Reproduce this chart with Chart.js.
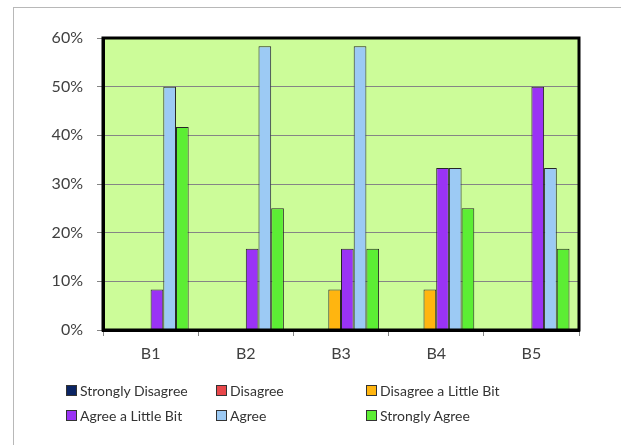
<!DOCTYPE html>
<html>
<head>
<meta charset="utf-8">
<script src="https://cdn.jsdelivr.net/npm/chart.js@4.4.1/dist/chart.umd.min.js"></script>
<style>
  html, body { margin: 0; padding: 0; background: #ffffff; }
  #wrap { position: relative; width: 621px; height: 445px; overflow: hidden; }
  #frame { position: absolute; left: 13px; top: 7px; width: 640px; height: 460px;
           border: 1px solid #b8b8b8; box-sizing: border-box; }
  #chart { position: absolute; left: 0; top: 0; }
  #legend { position: absolute; left: 66px; top: 381px; display: grid;
            grid-template-columns: 150px 150px 220px; row-gap: 6px;
            font-family: Lato, "Open Sans", sans-serif; font-size: 14px; color: #333333; }
  .item { display: flex; align-items: center; height: 19px; white-space: nowrap; }
  .sw { width: 9px; height: 9px; border: 1px solid #333; margin-right: 3px; flex: none; }
</style>
</head>
<body>
<div id="wrap">
  <div id="frame"></div>
  <canvas id="chart" width="621" height="445"></canvas>
  <div id="legend"></div>
</div>
<script>
// Survey items and response shares (percent of respondents)
const categories = ["B1", "B2", "B3", "B4", "B5"];
const seriesNames = ["Strongly Disagree", "Disagree", "Disagree a Little Bit",
                     "Agree a Little Bit", "Agree", "Strongly Agree"];
const stronglyDisagree = [0, 0, 0, 0, 0];
const disagree         = [0, 0, 0, 0, 0];
const disagreeLittle   = [0, 0, 8.3, 8.3, 0];
const agreeLittle      = [8.3, 16.7, 16.7, 33.3, 50];
const agree            = [50, 58.3, 58.3, 33.3, 33.3];
const stronglyAgree    = [41.7, 25, 16.7, 25, 16.7];
const yTicks = [0, 10, 20, 30, 40, 50, 60];

const seriesValues = [stronglyDisagree, disagree, disagreeLittle, agreeLittle, agree, stronglyAgree];
const seriesColors = ["#0a2463", "#e8474a", "#ffb510", "#9a33f5", "#9ccaf4", "#5cee34"];

const plotFrame = {
  id: "plotFrame",
  beforeDraw(chart) {
    const { ctx, chartArea: a } = chart;
    ctx.save();
    ctx.fillStyle = "#ccfc99";
    ctx.fillRect(a.left, a.top, a.right - a.left, a.bottom - a.top);
    ctx.restore();
  },
  afterDraw(chart) {
    const { ctx, chartArea: a } = chart;
    ctx.save();
    ctx.strokeStyle = "#000000";
    ctx.lineWidth = 3;
    ctx.strokeRect(a.left, a.top, a.right - a.left, a.bottom - a.top);
    ctx.restore();
  }
};

const fontFamily = 'Lato, "Open Sans", sans-serif';

new Chart(document.getElementById("chart"), {
  type: "bar",
  data: {
    labels: categories,
    datasets: seriesNames.map((name, i) => ({
      label: name,
      data: seriesValues[i],
      backgroundColor: seriesColors[i],
      borderColor: "#262626",
      borderWidth: 1,
      categoryPercentage: 0.8,
      barPercentage: 1.0
    }))
  },
  options: {
    responsive: false,
    animation: false,
    layout: { padding: { left: 0, top: 38, right: 42, bottom: 75 } },
    plugins: { legend: { display: false }, tooltip: { enabled: false } },
    scales: {
      y: {
        min: 0, max: 60,
        afterFit(scale) { scale.width = 103; },
        afterBuildTicks(scale) { scale.ticks = yTicks.map(v => ({ value: v })); },
        ticks: { callback: v => v + "%", font: { family: fontFamily, size: 16 },
                 color: "#404040", padding: 14 },
        grid: { color: "#858585", lineWidth: 1, tickLength: 6, tickColor: "#858585" },
        border: { color: "#000000", width: 3 }
      },
      x: {
        afterFit(scale) { scale.height = 40; },
        ticks: { font: { family: fontFamily, size: 16 }, color: "#404040", padding: 8 },
        grid: { drawOnChartArea: false, offset: true, tickLength: 6, tickColor: "#858585" },
        border: { color: "#000000", width: 3 }
      }
    }
  },
  plugins: [plotFrame]
});

// Legend in two rows of three, built from the series names and colours
const legend = document.getElementById("legend");
const order = [0, 1, 2, 3, 4, 5];
order.forEach(i => {
  const item = document.createElement("div");
  item.className = "item";
  const sw = document.createElement("span");
  sw.className = "sw";
  sw.style.background = seriesColors[i];
  const tx = document.createElement("span");
  tx.textContent = seriesNames[i];
  item.appendChild(sw);
  item.appendChild(tx);
  legend.appendChild(item);
});
</script>
</body>
</html>
